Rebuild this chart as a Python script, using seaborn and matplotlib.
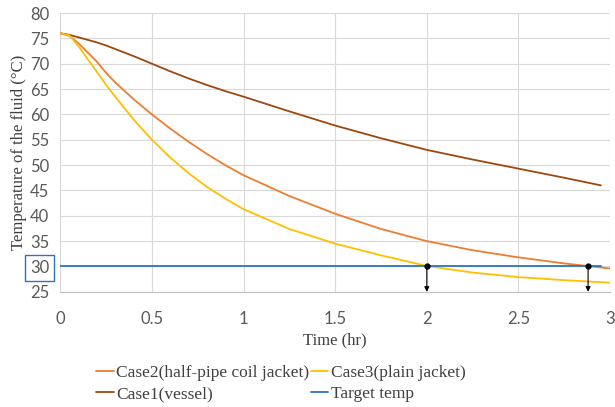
import pandas as pd
import matplotlib
matplotlib.use("Agg")
import matplotlib.pyplot as plt
import seaborn as sns

# --- data ---
time_jackets = [0, 0.05, 0.1, 0.15, 0.2, 0.25, 0.3, 0.4, 0.5, 0.6, 0.7, 0.8, 0.9, 1.0,
                1.25, 1.5, 1.75, 2.0, 2.25, 2.5, 2.75, 3.0]
time_vessel = [0, 0.05, 0.1, 0.15, 0.2, 0.25, 0.3, 0.4, 0.5, 0.6, 0.7, 0.8, 0.9, 1.0,
               1.25, 1.5, 1.75, 2.0, 2.25, 2.5, 2.75, 2.95]
case1_vessel = [76.0, 75.7, 75.2, 74.7, 74.2, 73.6, 72.9, 71.5, 70.0, 68.5, 67.1, 65.8,
                64.6, 63.5, 60.6, 57.8, 55.3, 53.0, 51.1, 49.3, 47.5, 46.0]
case2_halfpipe = [76.0, 75.5, 74.0, 72.2, 70.4, 68.2, 66.3, 63.0, 60.0, 57.2, 54.6, 52.2,
                  50.0, 48.0, 43.9, 40.4, 37.4, 35.0, 33.2, 31.8, 30.6, 29.6]
case3_plain = [76.0, 75.6, 73.4, 70.9, 68.4, 65.8, 63.5, 59.0, 55.0, 51.5, 48.4, 45.7,
               43.4, 41.3, 37.4, 34.5, 32.2, 30.1, 28.8, 27.9, 27.3, 26.8]
time_target = [0, 2.95]
target_temp = [30.0, 30.0]

arrow_x = [2.0, 2.88]
arrow_from = 30
arrow_to = 25

labels = {
    "case2": "Case2(half-pipe coil jacket)",
    "case1": "Case1(vessel)",
    "case3": "Case3(plain jacket)",
    "target": "Target temp",
}
colors = {
    labels["case2"]: "#ED7D31",
    labels["case1"]: "#9E480E",
    labels["case3"]: "#FFC000",
    labels["target"]: "#2E75B6",
}

df = pd.concat([
    pd.DataFrame({"t": time_jackets, "T": case2_halfpipe, "series": labels["case2"]}),
    pd.DataFrame({"t": time_vessel, "T": case1_vessel, "series": labels["case1"]}),
    pd.DataFrame({"t": time_jackets, "T": case3_plain, "series": labels["case3"]}),
    pd.DataFrame({"t": time_target, "T": target_temp, "series": labels["target"]}),
])

sns.set_style("white")
plt.rcParams["font.family"] = ["Lato", "DejaVu Sans"]

fig = plt.figure(figsize=(6.15, 4.07), dpi=100)
ax = fig.add_axes([0.098, 0.283, 0.894, 0.685])

sns.lineplot(data=df, x="t", y="T", hue="series", palette=colors,
             linewidth=1.3, ax=ax, legend=False, sort=False)

# arrows down to the time axis
for xa in arrow_x:
    ax.annotate("", xy=(xa, arrow_to), xytext=(xa, arrow_from),
                arrowprops=dict(arrowstyle="-|>", color="black", lw=0.8,
                                mutation_scale=7, shrinkA=0, shrinkB=0))
    ax.plot([xa], [arrow_from], "o", color="black", ms=3.5)

ax.set_xlim(0, 3)
ax.set_ylim(25, 80)
ax.set_xticks([0, 0.5, 1, 1.5, 2, 2.5, 3])
ax.set_xticklabels(["0", "0.5", "1", "1.5", "2", "2.5", "3"])
ax.set_yticks(range(25, 81, 5))
ax.grid(True, color="#D9D9D9", lw=0.8)
ax.set_axisbelow(True)
for s in ["top", "right", "left"]:
    ax.spines[s].set_visible(False)
ax.spines["bottom"].set_color("#BFBFBF")
ax.tick_params(axis="x", length=0, pad=14, labelsize=12, labelcolor="#595959")
ax.tick_params(axis="y", length=0, pad=8, labelsize=12, labelcolor="#595959")

serif = ["Liberation Serif", "DejaVu Serif"]
ax.set_xlabel("Time (hr)", family=serif, fontsize=12, color="#404040", labelpad=4)
ax.set_ylabel("Temperature of the fluid (°C)", family=serif, fontsize=12,
              color="#404040", labelpad=2)

# blue box round the 30 label
for lab in ax.get_yticklabels():
    if lab.get_text() == "30":
        lab.set_bbox(dict(facecolor="none", edgecolor="#2E75B6", lw=1.0, pad=3.5))

order = ["case2", "case1", "case3", "target"]
handles = [plt.Line2D([], [], color=colors[labels[k]], lw=1.3) for k in order]
names = [labels[k] for k in order]
fig.legend(handles, names, ncol=2, loc="center", bbox_to_anchor=(0.457, 0.058),
           frameon=False, prop={"family": serif, "size": 12.5},
           handlelength=1.0, handletextpad=0.15, columnspacing=0.1,
           labelspacing=0.3, labelcolor="#404040")

fig.savefig("out.png", dpi=100)
